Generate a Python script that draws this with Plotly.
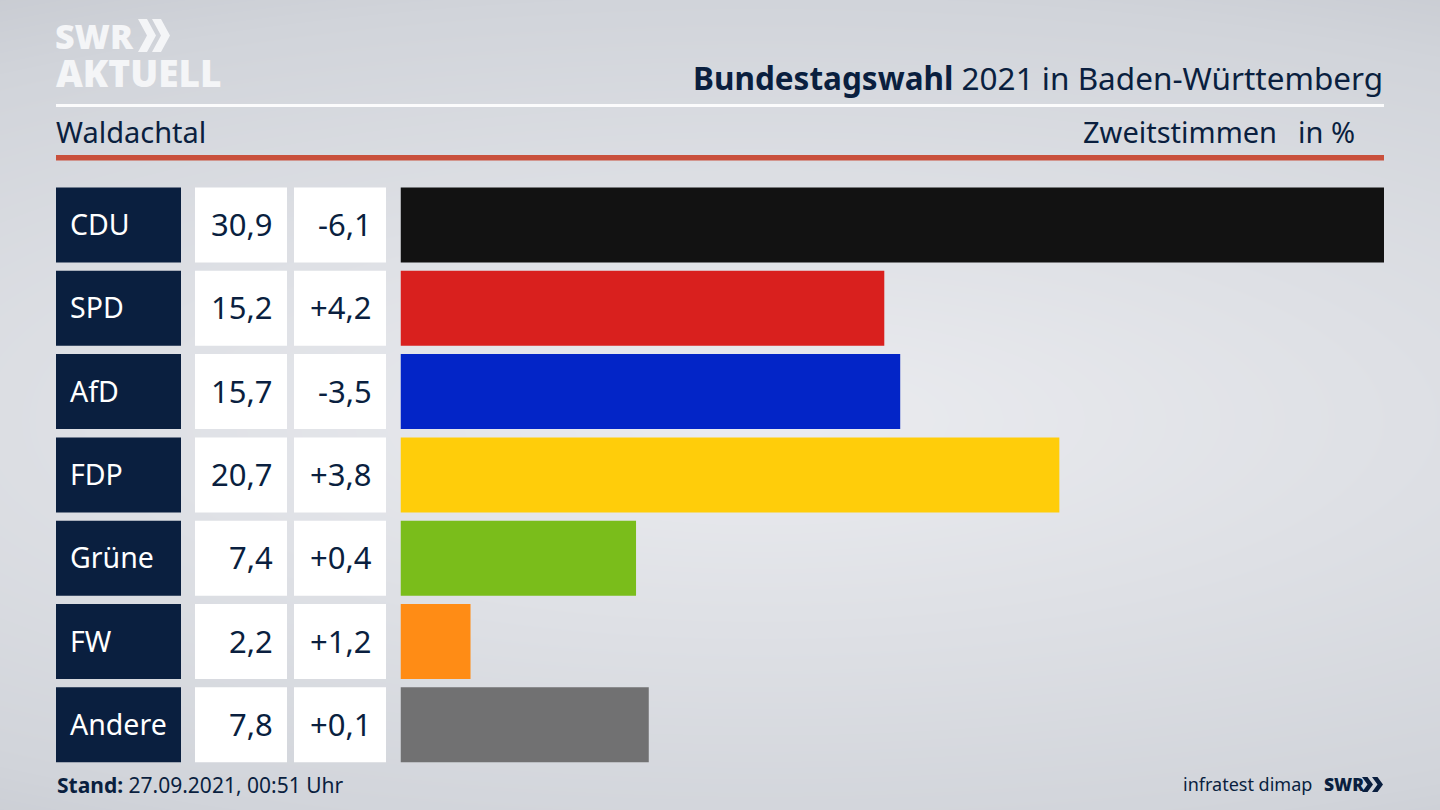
import numpy as np
import plotly.graph_objects as go

W, H = 1440, 810

parties = ["CDU", "SPD", "AfD", "FDP", "Grüne", "FW", "Andere"]
shares = [30.9, 15.2, 15.7, 20.7, 7.4, 2.2, 7.8]
changes = [-6.1, 4.2, -3.5, 3.8, 0.4, 1.2, 0.1]
colors = ["#121212", "#d9201e", "#0325c7", "#ffcd0a", "#7abd1b", "#ff8c15", "#717172"]

NAVY = "#0a1f3f"
FONT = "Noto Sans"
LOGO = "Open Sans"


def px(x):
    return x / W


def py(y):
    return 1 - y / H


def de(v, sign=False):
    return (f"{v:+.1f}" if sign else f"{v:.1f}").replace(".", ",")


# background gradient, light in the middle and darker to the edges
gx = np.linspace(0, 1440, 73)
gy = np.linspace(0, 810, 55)
xx, yy = np.meshgrid(gx, gy)
r = np.sqrt(((xx - 760) / 1300) ** 2 + ((yy - 420) / 420) ** 2)
bg = np.clip(r, 0, 1.25)

fig = go.Figure()
fig.add_trace(go.Heatmap(x=gx, y=gy, z=bg, zmin=0, zmax=1.25, zsmooth="best", showscale=False,
                         colorscale=[[0, "#ebecf0"], [0.8, "#d1d4da"], [1, "#c5c8cf"]],
                         hoverinfo="skip", xaxis="x", yaxis="y"))

# label and number cells
for ax in ["x3", "x4", "x5"]:
    fig.add_trace(go.Bar(y=parties, x=[1] * len(parties), orientation="h", xaxis=ax, yaxis="y2",
                         marker=dict(color=NAVY if ax == "x3" else "white", line_width=0),
                         hoverinfo="skip", showlegend=False))

# the real bars
fig.add_trace(go.Bar(y=parties, x=shares, orientation="h", xaxis="x2", yaxis="y2",
                     marker=dict(color=colors, line_width=0), showlegend=False))

hidden = dict(visible=False, fixedrange=True)
fig.update_layout(
    width=W, height=H, margin=dict(l=0, r=0, t=0, b=0), autosize=False,
    paper_bgcolor="#dfe1e6", plot_bgcolor="rgba(0,0,0,0)", bargap=0.1, showlegend=False,
    font=dict(family=FONT, color=NAVY),
    xaxis=dict(domain=[0, 1], range=[0, W], **hidden),
    yaxis=dict(domain=[0, 1], range=[H, 0], **hidden),
    xaxis2=dict(domain=[px(400.5), px(1384)], range=[0, 30.9], anchor="y2", **hidden),
    xaxis3=dict(domain=[px(56), px(181)], range=[0, 1], anchor="y2", **hidden),
    xaxis4=dict(domain=[px(195), px(287)], range=[0, 1], anchor="y2", **hidden),
    xaxis5=dict(domain=[px(294), px(386)], range=[0, 1], anchor="y2", **hidden),
    yaxis2=dict(domain=[py(766.5), py(183.3)], range=[6.5, -0.5], type="category",
                categoryorder="array", categoryarray=parties, **hidden),
)


def note(text, x, y, size, anchor="left", color=NAVY, yref="paper", family=FONT, yshift=0, weight=None):
    fig.add_annotation(text=text, x=px(x), y=py(y) if yref == "paper" else y, xref="paper", yref=yref,
                       xanchor=anchor, yanchor="middle", showarrow=False, align=anchor, yshift=yshift,
                       font=dict(size=size, color=color, family=family, weight=weight))


for p, s, c in zip(parties, shares, changes):
    note(p, 68, p, 28.5, color="white", yref="y2", yshift=1)
    note(de(s), 275, p, 31, "right", yref="y2", yshift=1)
    note(de(c, True), 374, p, 31, "right", yref="y2", yshift=1)

# header and footer
note("<b>Bundestagswahl</b> 2021 in Baden-Württemberg", 1385, 77, 31.5, "right")
note("Waldachtal", 54, 131, 29)
note("Zweitstimmen", 1279, 131, 29, "right")
note("in %", 1357, 131, 29, "right")
note("<b>Stand:</b> 27.09.2021, 00:51 Uhr", 55, 785, 21)
note("infratest dimap", 1314, 784, 18, "right")
note("SWR", 1322, 784, 17.5, "left", family=LOGO, weight=800)

# logo
note("SWR", 53, 36, 34, color="#f4f5f7", family=LOGO, weight=800)
note("AKTUELL", 54, 72, 37, color="#f4f5f7", family=LOGO, weight=800)


def chevron(x, y, w, h, color):
    t = w * 0.5
    path = (f"M{px(x)},{py(y)} L{px(x + t)},{py(y)} L{px(x + w)},{py(y + h / 2)} "
            f"L{px(x + t)},{py(y + h)} L{px(x)},{py(y + h)} L{px(x + w - t)},{py(y + h / 2)} Z")
    fig.add_shape(type="path", path=path, xref="paper", yref="paper", fillcolor=color, line_width=0)


chevron(138, 19, 18, 33, "#f4f5f7")
chevron(152, 19, 18, 33, "#f4f5f7")
chevron(1362, 777, 11, 15, NAVY)
chevron(1372, 777, 11, 15, NAVY)

# rules under the header
fig.add_shape(type="rect", xref="paper", yref="paper", x0=px(56), x1=px(1384), y0=py(107), y1=py(104),
              fillcolor="#fbfbfc", line_width=0)
fig.add_shape(type="rect", xref="paper", yref="paper", x0=px(56), x1=px(1384), y0=py(160.5), y1=py(155),
              fillcolor="#c9503c", line_width=0)

fig.write_html("out.html", config=dict(displayModeBar=False),
               post_script="document.body.style.margin='0';")
